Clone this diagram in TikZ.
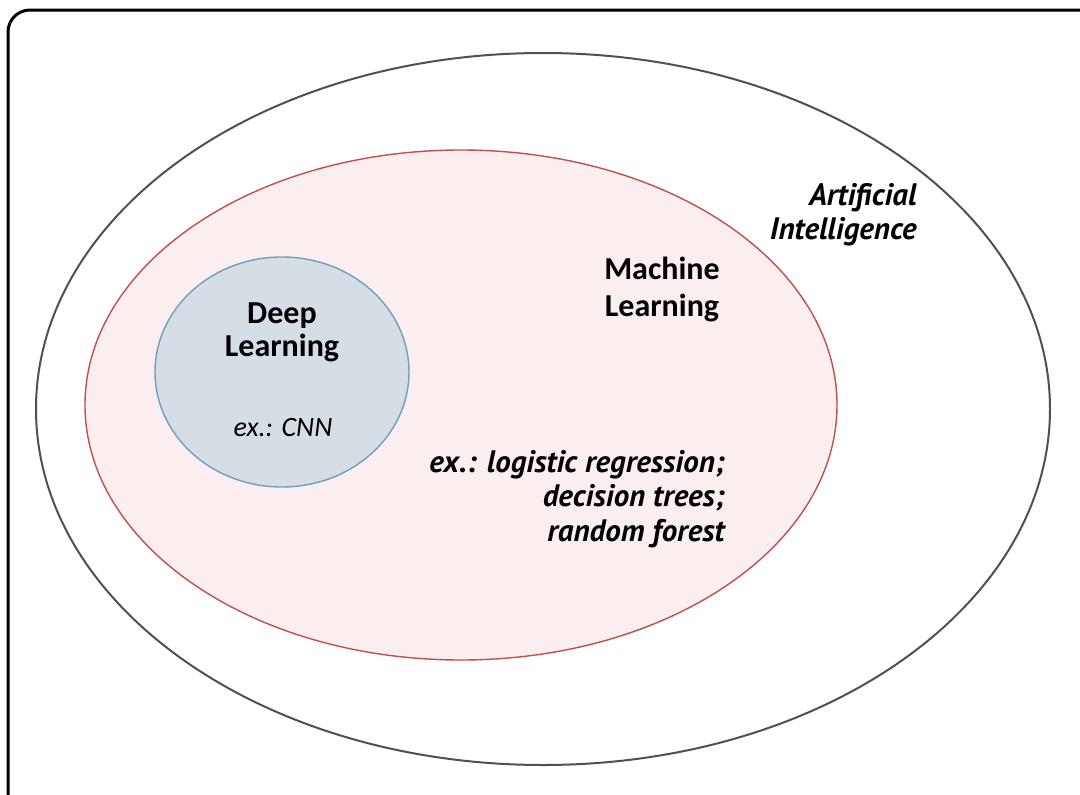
\documentclass[tikz,border=0pt]{standalone}
\usepackage{fontspec}
\setmainfont{Carlito}
\newfontfamily\exfont{PT Sans}
\usepackage{tikz}
\usetikzlibrary{positioning,shapes.geometric}
\definecolor{rimgray}{RGB}{80,80,80}
\definecolor{mlred}{RGB}{196,78,78}
\definecolor{mlpink}{RGB}{251,238,238}
\definecolor{dlblue}{RGB}{110,160,190}
\definecolor{dlgray}{RGB}{214,222,229}

\begin{document}
\begin{tikzpicture}[x=1pt, y=-1pt,
  area/.style={ellipse, inner sep=0pt},
  title/.style={font=\fontsize{32}{35}\selectfont\bfseries, align=center},
  extext/.style={font=\exfont\fontsize{31}{34.5}\selectfont\bfseries\itshape, align=right}
]
  \useasboundingbox (0,0) rectangle (1080,795);
  \clip (0,0) rectangle (1080,795);
  \draw[line width=3pt, rounded corners=22pt] (8,10) rectangle (1110,820);

  \node[area, draw=rimgray, line width=2pt, minimum width=1014pt, minimum height=712pt] (ai) at (543,409) {};
  \node[area, draw=mlred, fill=mlpink, line width=1.4pt, minimum width=752pt, minimum height=510pt] (ml) at (461,405) {};
  \node[area, draw=dlblue, fill=dlgray, line width=1.4pt, minimum width=254pt, minimum height=230pt] (dl) at (282,372) {};

  \node[extext, anchor=east] (aitxt) at (920,215) {Artificial\\Intelligence};
  \node[title, font=\fontsize{32}{37}\selectfont\bfseries] (mltxt) at (662,289) {Machine\\Learning};
  \node[extext, anchor=east] (mlex) at (728,499) {ex.: logistic regression;\\decision trees;\\random forest};
  \node[title, font=\fontsize{32}{33}\selectfont\bfseries] (dltxt) at (282,332) {Deep\\Learning};
  \node[font=\fontsize{28}{33}\selectfont\itshape] (dlex) at (283,428) {ex.: CNN};
\end{tikzpicture}
\end{document}
